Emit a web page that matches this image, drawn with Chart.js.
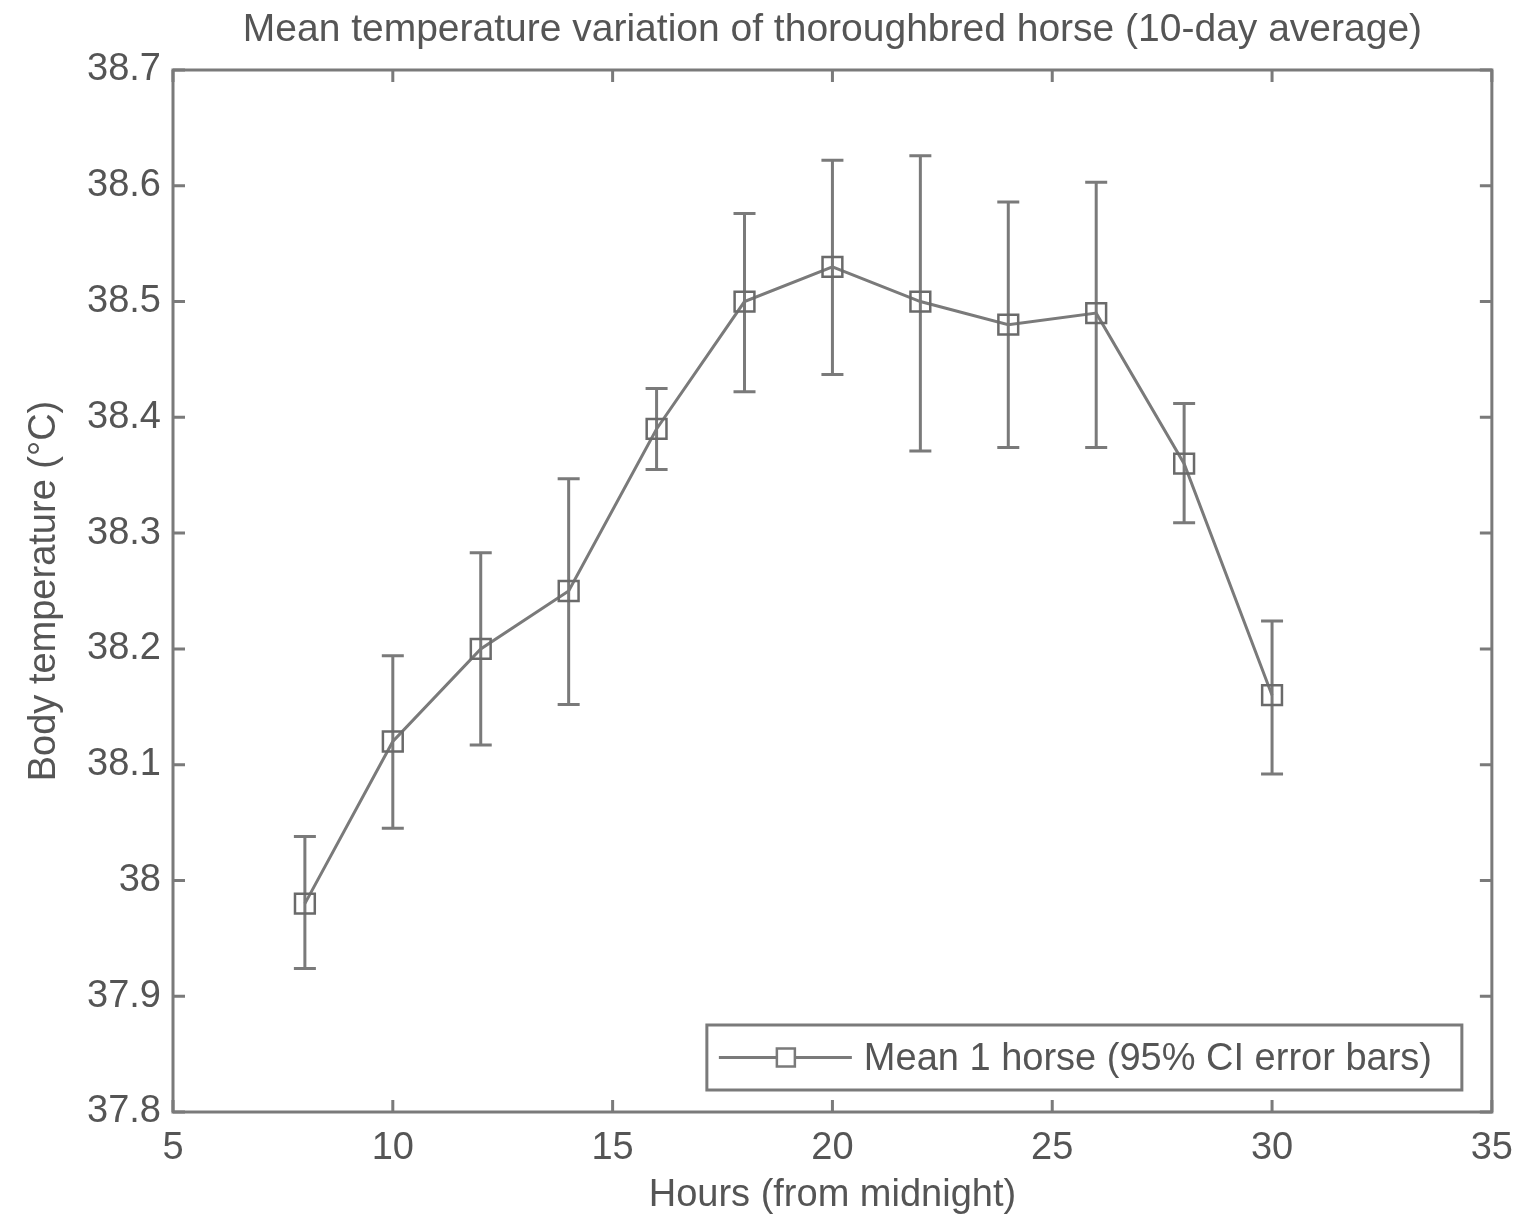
<!DOCTYPE html>
<html>
<head>
<meta charset="utf-8">
<script src="https://cdn.jsdelivr.net/npm/chart.js@4/dist/chart.umd.min.js"></script>
<style>
  html, body { margin: 0; padding: 0; background: #fff; }
  #wrap { width: 1527px; height: 1224px; }
</style>
</head>
<body>
<div id="wrap"><canvas id="chart"></canvas></div>
<script>
// values
var hours = [8, 10, 12, 14, 16, 18, 20, 22, 24, 26, 28, 30];
var meanTemp = [37.98, 38.12, 38.20, 38.25, 38.39, 38.50, 38.53, 38.50, 38.48, 38.49, 38.36, 38.16];
var ciUpper = [38.038, 38.194, 38.283, 38.347, 38.425, 38.576, 38.622, 38.626, 38.586, 38.603, 38.412, 38.224];
var ciLower = [37.924, 38.045, 38.117, 38.152, 38.355, 38.422, 38.437, 38.371, 38.374, 38.374, 38.309, 38.092];

var titleText = 'Mean temperature variation of thoroughbred horse (10-day average)';
var legendText = 'Mean 1 horse (95% CI error bars)';
var xTitle = 'Hours (from midnight)';
var yTitle = 'Body temperature (\u00B0C)';

var FONT = '"Liberation Sans", Arial, Helvetica, sans-serif';
var TEXT_COLOR = '#555';
var LINE_COLOR = '#7a7a7a';

// box, inward ticks, title, error bars and legend, MATLAB style
var matlabPlugin = {
    id: 'matlab',
    beforeDatasetsDraw: function (chart) {
        var ctx = chart.ctx, a = chart.chartArea;
        var xs = chart.scales.x, ys = chart.scales.y;
        var tl = 12;
        ctx.save();
        ctx.strokeStyle = LINE_COLOR;
        ctx.lineWidth = 3;
        ctx.strokeRect(a.left, a.top, a.right - a.left, a.bottom - a.top);
        ctx.beginPath();
        xs.ticks.forEach(function (t) {
            var px = xs.getPixelForValue(t.value);
            ctx.moveTo(px, a.bottom); ctx.lineTo(px, a.bottom - tl);
            ctx.moveTo(px, a.top); ctx.lineTo(px, a.top + tl);
        });
        ys.ticks.forEach(function (t) {
            var py = ys.getPixelForValue(t.value);
            ctx.moveTo(a.left, py); ctx.lineTo(a.left + tl, py);
            ctx.moveTo(a.right, py); ctx.lineTo(a.right - tl, py);
        });
        ctx.stroke();

        // title, centred over the plot area
        ctx.fillStyle = TEXT_COLOR;
        ctx.font = '39px ' + FONT;
        ctx.textAlign = 'center';
        ctx.textBaseline = 'middle';
        ctx.fillText(titleText, (a.left + a.right) / 2, 30);

        // error bars
        var cap = 11;
        ctx.lineWidth = 3;
        ctx.beginPath();
        hours.forEach(function (h, i) {
            var px = xs.getPixelForValue(h);
            var pt = ys.getPixelForValue(ciUpper[i]);
            var pb = ys.getPixelForValue(ciLower[i]);
            ctx.moveTo(px, pt); ctx.lineTo(px, pb);
            ctx.moveTo(px - cap, pt); ctx.lineTo(px + cap, pt);
            ctx.moveTo(px - cap, pb); ctx.lineTo(px + cap, pb);
        });
        ctx.stroke();
        ctx.restore();
    },
    afterDatasetsDraw: function (chart) {
        var ctx = chart.ctx, a = chart.chartArea;
        var boxR = a.right - 30, boxB = a.bottom - 22;
        var boxL = boxR - 755, boxT = boxB - 65;
        var midY = (boxT + boxB) / 2;
        ctx.save();
        ctx.fillStyle = '#fff';
        ctx.fillRect(boxL, boxT, boxR - boxL, boxB - boxT);
        ctx.strokeStyle = LINE_COLOR;
        ctx.lineWidth = 3;
        ctx.strokeRect(boxL, boxT, boxR - boxL, boxB - boxT);
        ctx.beginPath();
        ctx.moveTo(boxL + 12, midY); ctx.lineTo(boxL + 145, midY);
        ctx.stroke();
        ctx.fillStyle = '#fff';
        ctx.fillRect(boxL + 70, midY - 9, 18, 18);
        ctx.lineWidth = 2.5;
        ctx.strokeRect(boxL + 70, midY - 9, 18, 18);
        ctx.fillStyle = TEXT_COLOR;
        ctx.font = '38px ' + FONT;
        ctx.textAlign = 'left';
        ctx.textBaseline = 'middle';
        ctx.fillText(legendText, boxL + 157, midY + 2);
        ctx.restore();
    }
};

var points = hours.map(function (h, i) { return { x: h, y: meanTemp[i] }; });

new Chart(document.getElementById('chart'), {
    type: 'line',
    data: {
        datasets: [{
            label: legendText,
            data: points,
            borderColor: LINE_COLOR,
            borderWidth: 3,
            pointStyle: 'rect',
            pointRadius: 14,
            pointBorderWidth: 2.5,
            pointBackgroundColor: 'rgba(255,255,255,0)',
            pointBorderColor: '#6a6a6a',
            tension: 0
        }]
    },
    options: {
        responsive: true,
        maintainAspectRatio: false,
        animation: false,
        layout: { padding: { top: 70, right: 32, left: 0, bottom: 0 } },
        plugins: {
            legend: { display: false },
            title: { display: false },
            tooltip: { enabled: false }
        },
        scales: {
            x: {
                type: 'linear',
                min: 5,
                max: 35,
                grid: { display: false, drawTicks: false },
                border: { display: false },
                ticks: {
                    stepSize: 5,
                    padding: 14,
                    color: TEXT_COLOR,
                    font: { family: FONT, size: 38 }
                },
                title: {
                    display: true,
                    text: xTitle,
                    color: TEXT_COLOR,
                    font: { family: FONT, size: 38 },
                    padding: { top: 4, bottom: 6 }
                },
                afterFit: function (scale) { scale.height = 112; }
            },
            y: {
                type: 'linear',
                min: 37.8,
                max: 38.7,
                grid: { display: false, drawTicks: false },
                border: { display: false },
                ticks: {
                    stepSize: 0.1,
                    padding: 12,
                    color: TEXT_COLOR,
                    font: { family: FONT, size: 38 },
                    callback: function (v) { return String(Number(v.toFixed(1))); }
                },
                title: {
                    display: true,
                    text: yTitle,
                    color: TEXT_COLOR,
                    font: { family: FONT, size: 38 },
                    padding: { top: 22, bottom: 4 }
                },
                afterFit: function (scale) { scale.width = 173; }
            }
        }
    },
    plugins: [matlabPlugin]
});
</script>
</body>
</html>
